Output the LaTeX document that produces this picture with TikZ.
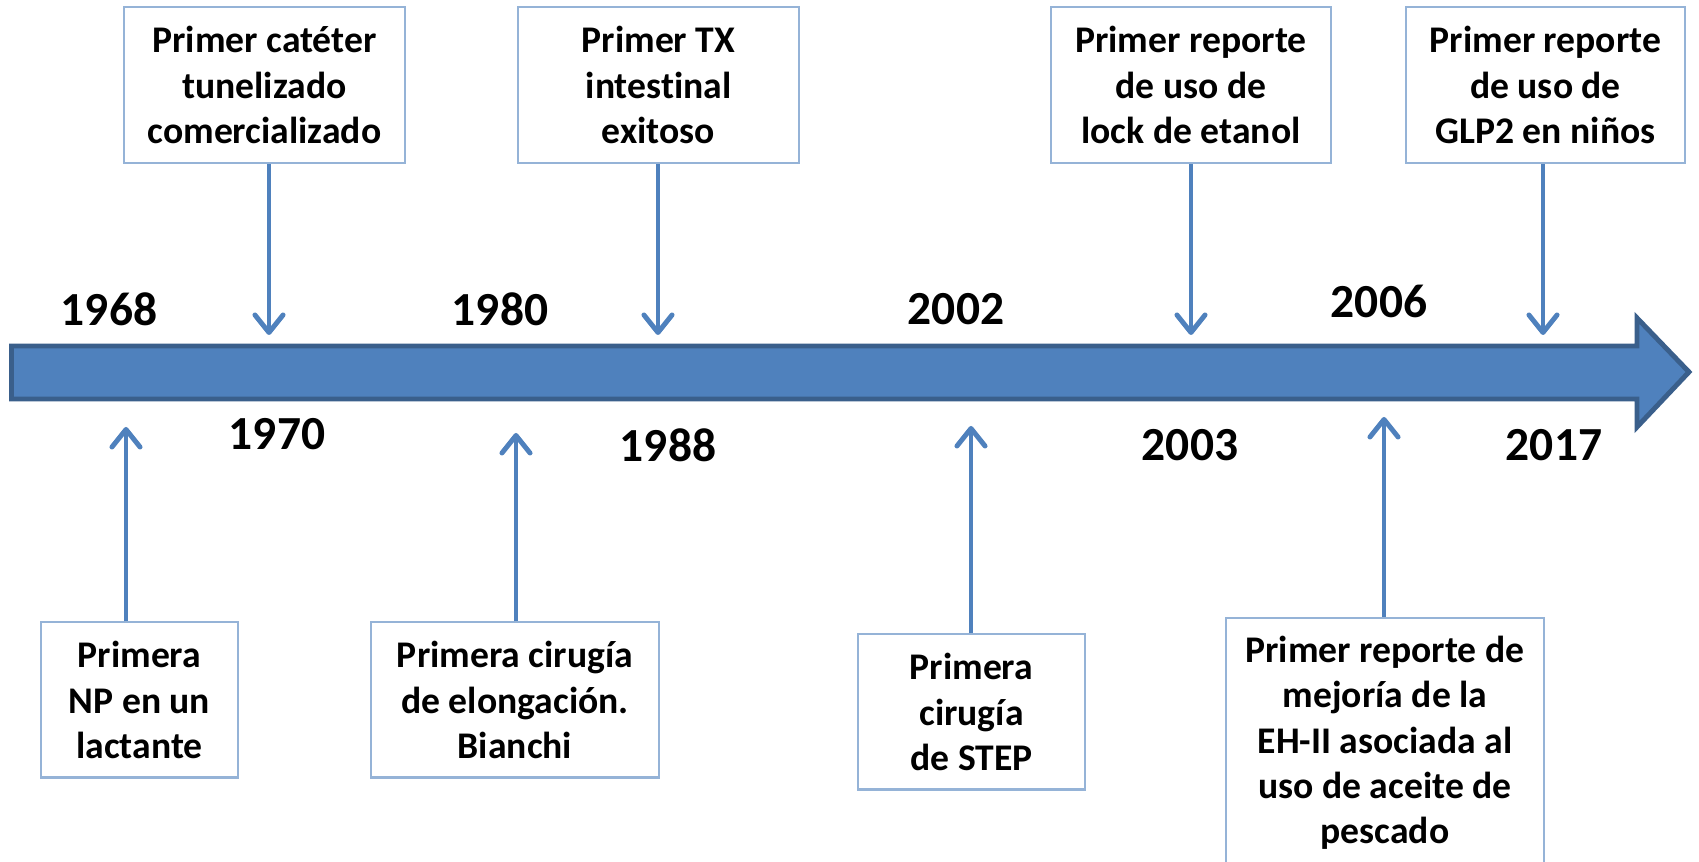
\documentclass[tikz,border=0pt]{standalone}
\usepackage{fontspec}
\setmainfont{Carlito}[RawFeature=-liga]
\usepackage{xcolor}
\usetikzlibrary{arrows.meta, positioning}

\definecolor{ejeazul}{HTML}{4F81BD}
\definecolor{bordeeje}{HTML}{3A5F8B}
\definecolor{bordecaja}{HTML}{95B3D7}

\tikzset{
    caja/.style={draw=bordecaja, line width=0.6pt, fill=white, align=center,
        inner sep=0pt, font=\fontsize{10.7}{12.9}\selectfont\bfseries},
    anio/.style={font=\fontsize{13.5}{15}\selectfont\bfseries},
    flecha/.style={ejeazul, line width=1.4pt,
        -{Straight Barb[round, length=5pt, width=8pt]}}
}

\begin{document}
\begin{tikzpicture}[x=0.01cm, y=-0.01cm]
    % 1. Marco del dibujo
    \useasboundingbox (0,0) rectangle (1699,862);
    \fill[white] (0,0) rectangle (1699,862);

    % 2. Flecha principal de la línea de tiempo
    \draw[fill=ejeazul, draw=bordeeje, line width=1.4pt, line join=miter]
        (11.5,346) -- (1637,346) -- (1637,318) -- (1689,372)
        -- (1637,427) -- (1637,399) -- (11.5,399) -- cycle;

    % 3. Años sobre y bajo la flecha
    \foreach \i/\x/\y in {1968/109/309, 1970/277/434, 1980/500/309, 1988/668/445,
                          2002/956/309, 2003/1190/445, 2006/1379/301, 2017/1554/445} {
        \node[anio] (a\i) at (\x,\y) {\i};
    }

    % 4. Cajas de arriba
    \node[caja, minimum width=2.81cm, minimum height=1.56cm] (c1) at (264.5,85)
        {Primer catéter\\tunelizado\\comercializado};
    \node[caja, minimum width=2.81cm, minimum height=1.56cm] (c2) at (658.5,85)
        {Primer TX\\intestinal\\exitoso};
    \node[caja, minimum width=2.80cm, minimum height=1.56cm] (c3) at (1191,85)
        {Primer reporte\\de uso de\\lock de etanol};
    \node[caja, minimum width=2.79cm, minimum height=1.56cm] (c4) at (1545.5,85)
        {Primer reporte\\de uso de\\GLP2 en niños};

    % 5. Cajas de abajo
    \node[caja, minimum width=1.97cm, minimum height=1.55cm] (b1) at (139.5,700)
        {Primera\\NP en un\\lactante};
    \node[caja, minimum width=2.88cm, minimum height=1.55cm] (b2) at (515,700)
        {Primera cirugía\\de elongación.\\Bianchi};
    \node[caja, minimum width=2.27cm, minimum height=1.55cm] (b3) at (971.5,712)
        {Primera\\cirugía\\de STEP};
    \node[caja, minimum width=3.18cm, minimum height=2.50cm] (b4) at (1385,743)
        {Primer reporte de\\mejoría de la\\EH-II asociada al\\uso de aceite de\\pescado};

    % 6. Puntas de las flechas sobre la línea de tiempo
    \coordinate (t1) at (269,335);
    \coordinate (t2) at (658,335);
    \coordinate (t3) at (1191,335);
    \coordinate (t4) at (1543,335);
    \coordinate (p1) at (126,427);
    \coordinate (p2) at (516,433);
    \coordinate (p3) at (971,426);
    \coordinate (p4) at (1384,417);

    % 7. Flechas de las cajas a la línea
    \foreach \n in {1,2,3,4} {
        \draw[flecha] (c\n.south -| t\n) -- (t\n);
        \draw[flecha] (b\n.north -| p\n) -- (p\n);
    }
\end{tikzpicture}
\end{document}
